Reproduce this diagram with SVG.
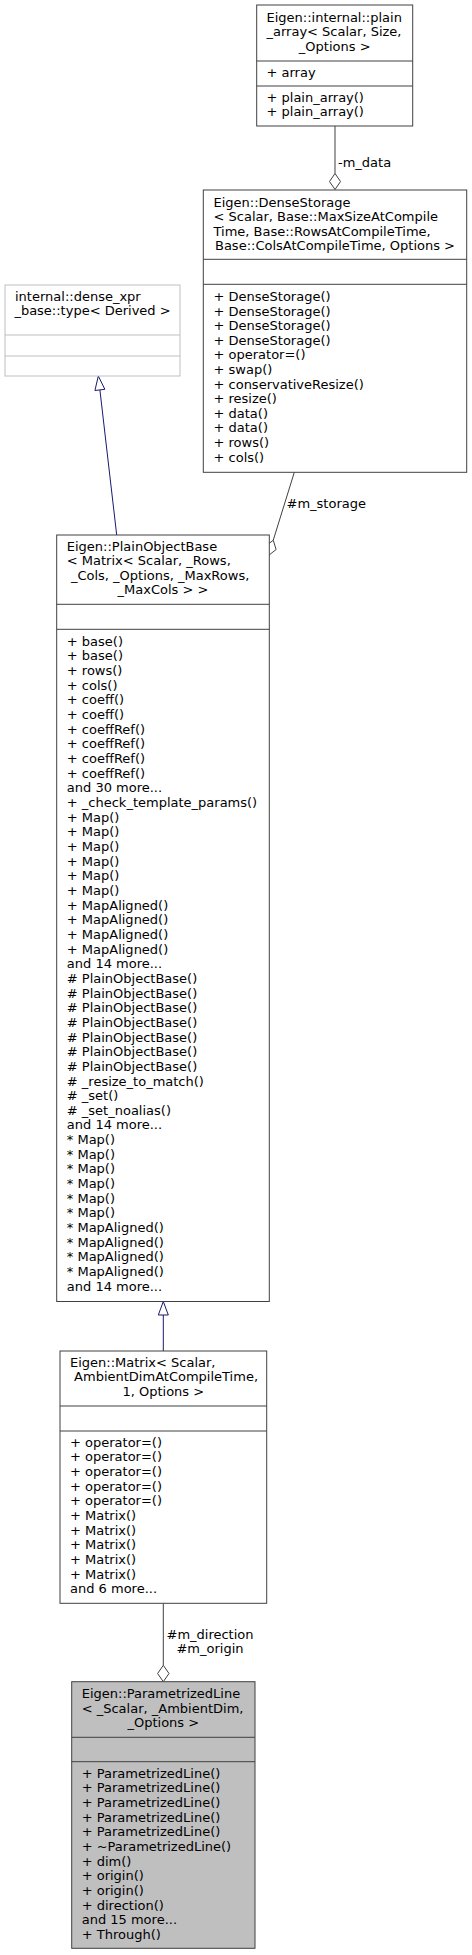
<svg xmlns="http://www.w3.org/2000/svg" width="472" height="1955" viewBox="0 0 472 1955">
<style>
text{font-family:"DejaVu Sans","Liberation Sans",sans-serif;font-size:13px;fill:#000}
.c{text-anchor:middle}
.box{fill:#fff;stroke:#404040;stroke-width:1}
.boxg{fill:#bfbfbf;stroke:#404040;stroke-width:1}
.boxl{fill:#fff;stroke:#bfbfbf;stroke-width:1}
.sep{stroke:#404040;stroke-width:1}
.sepl{stroke:#bfbfbf;stroke-width:1}
.agg{stroke:#404040;stroke-width:1;fill:none}
.aggh{stroke:#404040;stroke-width:1;fill:#fff}
.inh{stroke:#191970;stroke-width:1;fill:none}
.inhh{stroke:#191970;stroke-width:1;fill:#fff}
</style>
<rect width="472" height="1955" fill="#fff"/>
<g id="edges">
  <line class="agg" x1="335" y1="126" x2="335" y2="173.5"/>
  <polygon class="aggh" points="335,173.5 340.5,181.5 335,189.5 329.5,181.5"/>
  <text x="338" y="166.5">-m_data</text>
  <line class="agg" x1="294.3" y1="472.3" x2="273.24" y2="540.22"/>
  <polygon class="aggh" points="273.24,540.22 276.12,549.49 268.5,555.5 265.62,546.23"/>
  <text x="286.5" y="507.5">#m_storage</text>
  <line class="inh" x1="116.7" y1="535" x2="99.9" y2="389.9"/>
  <polygon class="inhh" points="98.3,376 104.87,389.3 94.93,390.5"/>
  <line class="inh" x1="163.3" y1="1351" x2="163.3" y2="1315"/>
  <polygon class="inhh" points="163.3,1301.5 168.3,1315 158.3,1315"/>
  <line class="agg" x1="163.3" y1="1603.3" x2="163.3" y2="1665.3"/>
  <polygon class="aggh" points="163.3,1665.3 169,1673.5 163.3,1681.7 157.6,1673.5"/>
  <text class="c" x="210" y="1638.5">#m_direction</text>
  <text class="c" x="210" y="1653">#m_origin</text>
</g>
<g id="plain_array">
  <rect class="box" x="256.7" y="5" width="156" height="121"/>
  <line class="sep" x1="256.7" y1="61" x2="412.7" y2="61"/>
  <line class="sep" x1="256.7" y1="86" x2="412.7" y2="86"/>
  <text x="266.5" y="21.5">Eigen::internal::plain</text>
  <text x="266.5" y="36">_array&lt; Scalar, Size,</text>
  <text class="c" x="334.7" y="50.5">_Options &gt;</text>
  <text x="266.5" y="77">+ array</text>
  <text x="266.5" y="101.5">+ plain_array()</text>
  <text x="266.5" y="116">+ plain_array()</text>
</g>
<g id="DenseStorage">
  <rect class="box" x="203.3" y="190" width="263.4" height="282.3"/>
  <line class="sep" x1="203.3" y1="259.3" x2="466.7" y2="259.3"/>
  <line class="sep" x1="203.3" y1="284.3" x2="466.7" y2="284.3"/>
  <text x="213.5" y="206.5">Eigen::DenseStorage</text>
  <text x="213.5" y="221">&lt; Scalar, Base::MaxSizeAtCompile</text>
  <text x="213.5" y="235.5">Time, Base::RowsAtCompileTime,</text>
  <text class="c" x="335" y="250">Base::ColsAtCompileTime, Options &gt;</text>
  <text x="213.5" y="301"><tspan x="213.5" dy="0">+ DenseStorage()</tspan><tspan x="213.5" dy="14.6">+ DenseStorage()</tspan><tspan x="213.5" dy="14.6">+ DenseStorage()</tspan><tspan x="213.5" dy="14.6">+ DenseStorage()</tspan><tspan x="213.5" dy="14.6">+ operator=()</tspan><tspan x="213.5" dy="14.6">+ swap()</tspan><tspan x="213.5" dy="14.6">+ conservativeResize()</tspan><tspan x="213.5" dy="14.6">+ resize()</tspan><tspan x="213.5" dy="14.6">+ data()</tspan><tspan x="213.5" dy="14.6">+ data()</tspan><tspan x="213.5" dy="14.6">+ rows()</tspan><tspan x="213.5" dy="14.6">+ cols()</tspan></text>
</g>
<g id="dense_xpr_base">
  <rect class="boxl" x="5" y="285" width="175" height="91"/>
  <line class="sepl" x1="5" y1="335" x2="180" y2="335"/>
  <line class="sepl" x1="5" y1="356" x2="180" y2="356"/>
  <text x="15" y="300.5">internal::dense_xpr</text>
  <text class="c" x="92.5" y="315">_base::type&lt; Derived &gt;</text>
</g>
<g id="PlainObjectBase">
  <rect class="box" x="56.7" y="535" width="212.6" height="766.5"/>
  <line class="sep" x1="56.7" y1="604.3" x2="269.3" y2="604.3"/>
  <line class="sep" x1="56.7" y1="629.3" x2="269.3" y2="629.3"/>
  <text x="66.8" y="550.5">Eigen::PlainObjectBase</text>
  <text x="66.8" y="565">&lt; Matrix&lt; Scalar, _Rows,</text>
  <text x="70.9" y="579.7">_Cols, _Options, _MaxRows,</text>
  <text class="c" x="163" y="594.3">_MaxCols &gt; &gt;</text>
  <text x="66.8" y="645.7"><tspan x="66.8" dy="0">+ base()</tspan><tspan x="66.8" dy="14.66">+ base()</tspan><tspan x="66.8" dy="14.66">+ rows()</tspan><tspan x="66.8" dy="14.66">+ cols()</tspan><tspan x="66.8" dy="14.66">+ coeff()</tspan><tspan x="66.8" dy="14.66">+ coeff()</tspan><tspan x="66.8" dy="14.66">+ coeffRef()</tspan><tspan x="66.8" dy="14.66">+ coeffRef()</tspan><tspan x="66.8" dy="14.66">+ coeffRef()</tspan><tspan x="66.8" dy="14.66">+ coeffRef()</tspan><tspan x="66.8" dy="14.66">and 30 more...</tspan><tspan x="66.8" dy="14.66">+ _check_template_params()</tspan><tspan x="66.8" dy="14.66">+ Map()</tspan><tspan x="66.8" dy="14.66">+ Map()</tspan><tspan x="66.8" dy="14.66">+ Map()</tspan><tspan x="66.8" dy="14.66">+ Map()</tspan><tspan x="66.8" dy="14.66">+ Map()</tspan><tspan x="66.8" dy="14.66">+ Map()</tspan><tspan x="66.8" dy="14.66">+ MapAligned()</tspan><tspan x="66.8" dy="14.66">+ MapAligned()</tspan><tspan x="66.8" dy="14.66">+ MapAligned()</tspan><tspan x="66.8" dy="14.66">+ MapAligned()</tspan><tspan x="66.8" dy="14.66">and 14 more...</tspan><tspan x="66.8" dy="14.66"># PlainObjectBase()</tspan><tspan x="66.8" dy="14.66"># PlainObjectBase()</tspan><tspan x="66.8" dy="14.66"># PlainObjectBase()</tspan><tspan x="66.8" dy="14.66"># PlainObjectBase()</tspan><tspan x="66.8" dy="14.66"># PlainObjectBase()</tspan><tspan x="66.8" dy="14.66"># PlainObjectBase()</tspan><tspan x="66.8" dy="14.66"># PlainObjectBase()</tspan><tspan x="66.8" dy="14.66"># _resize_to_match()</tspan><tspan x="66.8" dy="14.66"># _set()</tspan><tspan x="66.8" dy="14.66"># _set_noalias()</tspan><tspan x="66.8" dy="14.66">and 14 more...</tspan><tspan x="66.8" dy="14.66">* Map()</tspan><tspan x="66.8" dy="14.66">* Map()</tspan><tspan x="66.8" dy="14.66">* Map()</tspan><tspan x="66.8" dy="14.66">* Map()</tspan><tspan x="66.8" dy="14.66">* Map()</tspan><tspan x="66.8" dy="14.66">* Map()</tspan><tspan x="66.8" dy="14.66">* MapAligned()</tspan><tspan x="66.8" dy="14.66">* MapAligned()</tspan><tspan x="66.8" dy="14.66">* MapAligned()</tspan><tspan x="66.8" dy="14.66">* MapAligned()</tspan><tspan x="66.8" dy="14.66">and 14 more...</tspan></text>
</g>
<g id="Matrix">
  <rect class="box" x="60" y="1351" width="206.7" height="252.3"/>
  <line class="sep" x1="60" y1="1406" x2="266.7" y2="1406"/>
  <line class="sep" x1="60" y1="1431" x2="266.7" y2="1431"/>
  <text x="70" y="1366.7">Eigen::Matrix&lt; Scalar,</text>
  <text x="74.1" y="1381.3">AmbientDimAtCompileTime,</text>
  <text class="c" x="163.3" y="1396">1, Options &gt;</text>
  <text x="70" y="1446.7"><tspan x="70" dy="0">+ operator=()</tspan><tspan x="70" dy="14.66">+ operator=()</tspan><tspan x="70" dy="14.66">+ operator=()</tspan><tspan x="70" dy="14.66">+ operator=()</tspan><tspan x="70" dy="14.66">+ operator=()</tspan><tspan x="70" dy="14.66">+ Matrix()</tspan><tspan x="70" dy="14.66">+ Matrix()</tspan><tspan x="70" dy="14.66">+ Matrix()</tspan><tspan x="70" dy="14.66">+ Matrix()</tspan><tspan x="70" dy="14.66">+ Matrix()</tspan><tspan x="70" dy="14.66">and 6 more...</tspan></text>
</g>
<g id="ParametrizedLine">
  <rect class="boxg" x="71.7" y="1681.7" width="183.3" height="266.6"/>
  <line class="sep" x1="71.7" y1="1737.3" x2="255" y2="1737.3"/>
  <line class="sep" x1="71.7" y1="1761.7" x2="255" y2="1761.7"/>
  <text x="81.7" y="1698.3">Eigen::ParametrizedLine</text>
  <text x="81.7" y="1712.8">&lt; _Scalar, _AmbientDim,</text>
  <text class="c" x="163.3" y="1727.3">_Options &gt;</text>
  <text x="81.7" y="1777.7"><tspan x="81.7" dy="0">+ ParametrizedLine()</tspan><tspan x="81.7" dy="14.66">+ ParametrizedLine()</tspan><tspan x="81.7" dy="14.66">+ ParametrizedLine()</tspan><tspan x="81.7" dy="14.66">+ ParametrizedLine()</tspan><tspan x="81.7" dy="14.66">+ ParametrizedLine()</tspan><tspan x="81.7" dy="14.66">+ ~ParametrizedLine()</tspan><tspan x="81.7" dy="14.66">+ dim()</tspan><tspan x="81.7" dy="14.66">+ origin()</tspan><tspan x="81.7" dy="14.66">+ origin()</tspan><tspan x="81.7" dy="14.66">+ direction()</tspan><tspan x="81.7" dy="14.66">and 15 more...</tspan><tspan x="81.7" dy="14.66">+ Through()</tspan></text>
</g>
</svg>
